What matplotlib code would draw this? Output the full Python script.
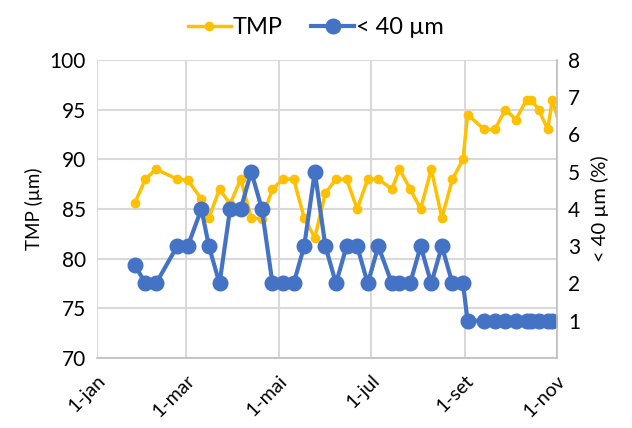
import datetime as dt
import matplotlib
matplotlib.use("Agg")
import matplotlib.pyplot as plt
import matplotlib.dates as mdates

# days after 1 jan (2021)
days = [25, 32, 39, 53, 60, 69, 74, 81, 88, 95, 102, 109, 116, 123, 130, 137,
        144, 151, 158, 165, 172, 179, 186, 195, 200, 207, 214, 221, 228, 235,
        242, 245, 256, 263, 270, 277, 284, 287, 292, 298, 301, 308]
tmp = [85.6, 88.0, 89.0, 88.0, 87.9, 86.0, 84.1, 87.0, 85.5, 88.0, 84.1, 84.0,
       87.0, 88.0, 88.0, 84.1, 82.1, 86.6, 88.0, 88.0, 85.0, 88.0, 88.0, 87.0,
       89.0, 87.0, 85.0, 89.0, 84.1, 88.0, 90.0, 94.5, 93.0, 93.0, 95.0, 94.0,
       96.0, 96.0, 95.0, 93.0, 96.0, 92.4]
fines = [2.5, 2, 2, 3, 3, 4, 3, 2, 4, 4, 5, 4,
         2, 2, 2, 3, 5, 3, 2, 3, 3, 2, 3, 2,
         2, 2, 3, 2, 3, 2, 2, 1, 1, 1, 1, 1,
         1, 1, 1, 1, 1, 1]
tick_months = [1, 3, 5, 7, 9, 11]
tick_labels = ["1-jan", "1-mar", "1-mai", "1-jul", "1-set", "1-nov"]

start = dt.datetime(2021, 1, 1)
dates = [start + dt.timedelta(days=d) for d in days]

plt.rcParams['font.family'] = ['Lato', 'DejaVu Sans']

fig = plt.figure(figsize=(6.32, 4.28), dpi=100)
ax = fig.add_axes([0.1535, 0.1636, 0.7275, 0.6964])
ax2 = ax.twinx()

grid_c = "#d9d9d9"
l1, = ax.plot(dates, tmp, color="#FFC000", lw=2.5, marker="o", ms=6, label="TMP")
l2, = ax2.plot(dates, fines, color="#4472C4", lw=3, marker="o", ms=10.5, label="< 40 µm")

ax.set_xlim(start, dt.datetime(2021, 11, 1))
ax.set_ylim(70, 100)
ax.set_yticks(range(70, 101, 5))
ax2.set_ylim(0, 8)
ax2.set_yticks(range(1, 9))

ax.set_xticks([dt.datetime(2021, m, 1) for m in tick_months])
ax.set_xticklabels(tick_labels, rotation=45, ha="right", rotation_mode="anchor")
ax.grid(True, color=grid_c, lw=1.5)
ax.set_axisbelow(True)

for a in (ax, ax2):
    a.tick_params(length=0, labelsize=15, colors="black")
    for s in a.spines.values():
        s.set_visible(False)
ax.tick_params(axis="x", pad=10, labelsize=14)
ax.tick_params(axis="y", pad=8)
ax2.tick_params(axis="y", pad=8)
ax2.spines["right"].set_visible(True)
ax2.spines["right"].set_color("#bfbfbf")
ax2.spines["right"].set_linewidth(1.2)
ax2.spines["bottom"].set_visible(True)
ax2.spines["bottom"].set_color("#bfbfbf")
ax2.spines["bottom"].set_linewidth(1.2)

ax.set_ylabel("TMP (µm)", fontsize=13.5, labelpad=5)
ax2.set_ylabel("< 40 µm (%)", fontsize=14.5, labelpad=8)

fig.legend(handles=[l1, l2], loc="upper center", bbox_to_anchor=(0.5, 1.01),
           ncol=2, frameon=False, fontsize=17, handlelength=1.8,
           handletextpad=0.1, columnspacing=1.2)

fig.savefig("out.png", dpi=100)
